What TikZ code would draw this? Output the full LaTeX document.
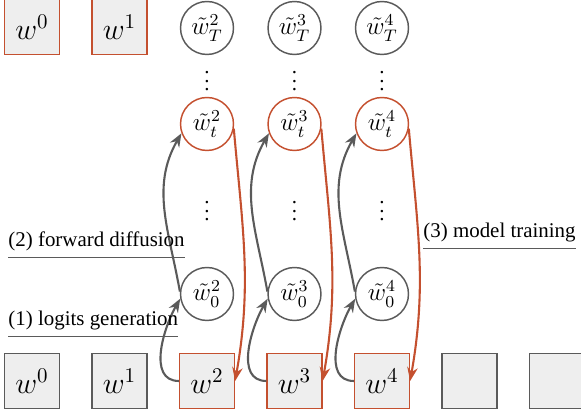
\documentclass[tikz,border=0pt]{standalone}
\usepackage[no-math]{fontspec}
\setmainfont{Liberation Serif}
\usepackage{xcolor}
\definecolor{colorTrain}{HTML}{C4502F}
\definecolor{colorFlow}{HTML}{5A5A5A}
\definecolor{colorToken}{HTML}{EEEEEE}
\usetikzlibrary{arrows.meta, positioning}

\begin{document}
\begin{tikzpicture}[x=0.0168cm, y=0.0168cm, >={Stealth[length=6.5pt, width=5pt]}, node distance=1.47cm,
  token/.style={draw=colorFlow, fill=colorToken, line width=0.7pt, minimum size=0.92cm, inner sep=0pt, font=\Large},
  picked/.style={token, draw=colorTrain},
  latent/.style={circle, draw=colorFlow, line width=0.7pt, minimum size=0.89cm, inner sep=0pt, font=\large},
  noisy/.style={latent, draw=colorTrain},
  flow/.style={->, colorFlow, line width=1pt},
  train/.style={->, colorTrain, line width=1pt},
  phase/.style={inner xsep=0pt, inner ysep=2.6pt},
  rule/.style={colorFlow, line width=0.6pt}]
\useasboundingbox (0,0) rectangle (581,-416);
% sequence known before sampling
\node[picked] (top0) at (32,-27) {$w^0$};
\node[picked, right of=top0] (top1) {$w^1$};
% token row
\node[token] (bot0) at (32,-381) {$w^0$};
\node[token, right of=bot0] (bot1) {$w^1$};
\node[picked, right of=bot1] (bot2) {$w^2$};
\node[picked, right of=bot2] (bot3) {$w^3$};
\node[picked, right of=bot3] (bot4) {$w^4$};
\node[token, right of=bot4] (bot5) {};
\node[token, right of=bot5] (bot6) {};
% diffusion chains
\foreach \k in {2,3,4} {
  \node[latent] (T\k) at (bot\k |- 0,-28) {$\tilde{w}^{\k}_T$};
  \node (dotsT\k) at (bot\k |- 0,-75) {$\vdots$};
  \node[noisy] (t\k) at (bot\k |- 0,-124) {$\tilde{w}^{\k}_t$};
  \node (dotsM\k) at (bot\k |- 0,-205) {$\vdots$};
  \node[latent] (z\k) at (bot\k |- 0,-294) {$\tilde{w}^{\k}_0$};
  \draw[flow] (bot\k.west) to[out=180, in=240] (z\k.190);
  \draw[flow] (z\k.175) to[out=100, in=240] (t\k.200);
  \draw[train] (t\k.-10) to[out=-85, in=80] (bot\k.east);
}
% phase labels
\node[phase, anchor=base west] (fwd) at (8,-247) {(2) forward diffusion};
\draw[rule] (fwd.south west) -- (fwd.south east);
\node[phase, anchor=base west] (gen) at (8,-326) {(1) logits generation};
\draw[rule] (gen.south west) -- (gen.south east);
\node[phase, anchor=base west] (fit) at (423,-238) {(3) model training};
\draw[rule] (fit.south west) -- (fit.south east);
\end{tikzpicture}
\end{document}
